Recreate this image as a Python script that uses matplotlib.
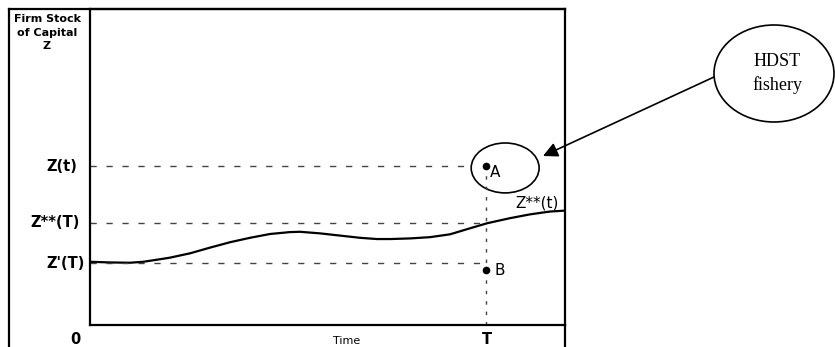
import matplotlib
matplotlib.use("Agg")
import matplotlib.pyplot as plt
from matplotlib.patches import Ellipse
from matplotlib.lines import Line2D

# ---- data ----
time_pts = [0, 4.2, 8.4, 11.2, 14.7, 16.8, 21.1, 25.3, 29.5, 33.7, 37.9, 42.1, 44.2,
            48.4, 52.6, 56.8, 60.4, 63.2, 67.4, 71.6, 75.8, 80.0, 83.6, 88.4, 92.6,
            96.8, 100]
z_star_pts = [20.0, 19.8, 19.7, 20.0, 20.8, 21.3, 22.7, 24.5, 26.2, 27.6, 28.8, 29.4, 29.5,
              29.0, 28.3, 27.6, 27.2, 27.2, 27.4, 27.8, 28.7, 30.6, 32.2, 33.8, 35.0,
              35.9, 36.2]
T_time = 83.4
level_names = ["Z(t)", "Z**(T)", "Z'(T)"]
level_values = [50.3, 32.3, 19.6]
point_names = ["A", "B"]
point_values = [50.3, 17.4]

W, H = 835, 347
fig = plt.figure(figsize=(W / 100, H / 100), dpi=100)
fig.patch.set_facecolor("white")

def fx(px):
    return px / W

def fy(py):
    return 1 - py / H

ax = fig.add_axes([fx(90), fy(325), 475 / W, 316 / H])
ax.set_xlim(0, 100)
ax.set_ylim(0, 100)
ax.set_xticks([])
ax.set_yticks([])
for s in ax.spines.values():
    s.set_linewidth(1.6)
    s.set_color("black")

# outer frame
fig.add_artist(Line2D([fx(9), fx(565)], [fy(9), fy(9)], color="black", lw=1.6, transform=fig.transFigure))
fig.add_artist(Line2D([fx(9), fx(9)], [fy(9), fy(347)], color="black", lw=1.6, transform=fig.transFigure))
fig.add_artist(Line2D([fx(565), fx(565)], [fy(325), fy(347)], color="black", lw=1.6, transform=fig.transFigure))

# curve
ax.plot(time_pts, z_star_pts, color="black", lw=1.6, solid_capstyle="round", solid_joinstyle="round")

# dashed level lines
dash_col = "#444444"
ax.plot([0, T_time - 3], [level_values[0]] * 2, color=dash_col, lw=1.0, dashes=(4.5, 7.0))
ax.plot([0, T_time], [level_values[1]] * 2, color=dash_col, lw=1.0, dashes=(4.5, 7.0))
ax.plot([0, T_time], [level_values[2]] * 2, color=dash_col, lw=1.0, dashes=(4.5, 7.0))
# vertical dotted line at T
ax.plot([T_time, T_time], [0, point_values[0]], color=dash_col, lw=1.0, dashes=(2.5, 5))

# points A and B
ax.plot([T_time, T_time], point_values, "o", color="black", ms=4.5, linestyle="none")
ax.annotate(point_names[0], xy=(T_time, point_values[0]), xytext=(4, -6), textcoords="offset pixels",
            ha="left", va="center", fontsize=11, family="DejaVu Sans")
ax.annotate(point_names[1], xy=(T_time, point_values[1]), xytext=(8, 0), textcoords="offset pixels",
            ha="left", va="center", fontsize=11, family="DejaVu Sans")
ax.annotate("Z**(t)", xy=(time_pts[-1], z_star_pts[-1]), xytext=(-50, 8), textcoords="offset pixels",
            ha="left", va="center", fontsize=11, family="DejaVu Sans")

# ellipse around A
ax.add_patch(Ellipse((87.4, 49.7), 14.3, 15.8, fill=False, lw=1.2, color="black"))

# level labels
offsets = [13, 10, 5]
for name, val, off in zip(level_names, level_values, offsets):
    ax.annotate(name, xy=(0, val), xycoords=("axes fraction", "data"), xytext=(-off, 0),
                textcoords="offset pixels", ha="right", va="center", fontsize=10.5,
                fontweight="bold", family="DejaVu Sans")

# axis labels
fig.text(fx(47), fy(14), "Firm Stock\nof Capital\nZ", ha="center", va="top", fontsize=8,
         fontweight="bold", family="DejaVu Sans", linespacing=1.45)
fig.text(fx(75), fy(339), "0", ha="center", va="center", fontsize=10.5, fontweight="bold", family="DejaVu Sans")
fig.text(fx(347), fy(341), "Time", ha="center", va="center", fontsize=8, family="DejaVu Sans")
ax.annotate("T", xy=(T_time, 0), xytext=(1, -15), textcoords="offset pixels", ha="center", va="center",
            fontsize=10.5, fontweight="bold", family="DejaVu Sans", annotation_clip=False)

# HDST fishery callout
fig.add_artist(Ellipse((fx(774), fy(73.5)), 120 / W, 97 / H, fill=False, lw=1.2, color="black",
                       transform=fig.transFigure))
fig.text(fx(777), fy(61), "HDST", ha="center", va="center", fontsize=13, family="Liberation Serif")
fig.text(fx(777), fy(85), "fishery", ha="center", va="center", fontsize=13, family="Liberation Serif")
ax.annotate("", xy=(543, H - 156), xycoords="figure pixels", xytext=(714, H - 77), textcoords="figure pixels",
            arrowprops=dict(arrowstyle="-|>", mutation_scale=22, lw=1.2, color="black",
                            shrinkA=0, shrinkB=0), annotation_clip=False)

fig.savefig("out.png", dpi=100)
